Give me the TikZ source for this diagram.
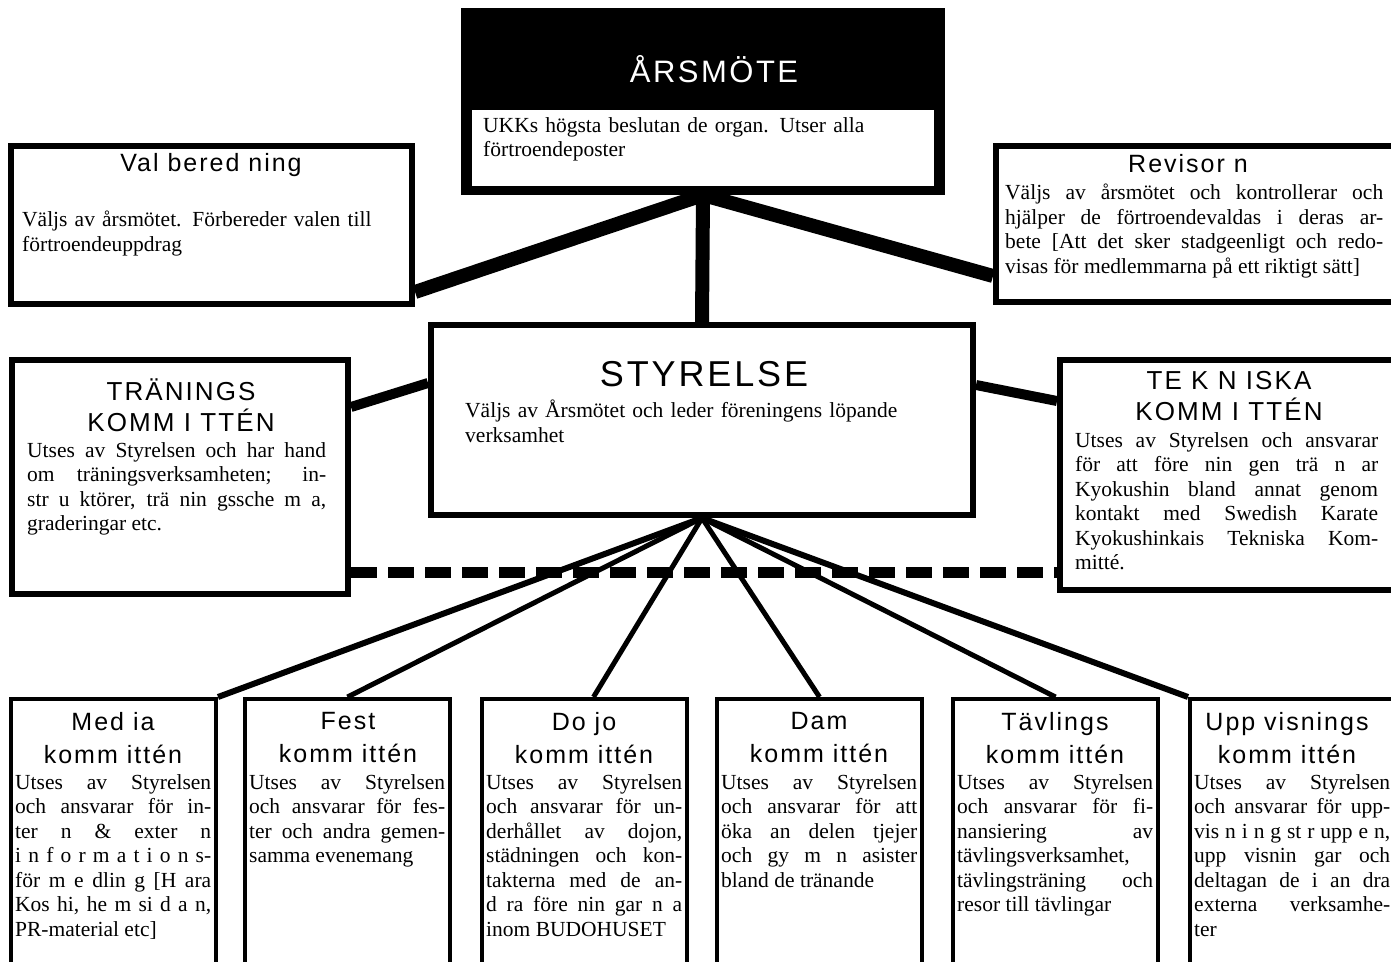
\documentclass[tikz,border=0pt]{standalone}
\usepackage{fontspec}
\setmainfont{Liberation Serif}
\newfontfamily\headfont{Liberation Sans}[LetterSpace=8]
\usetikzlibrary{positioning}

% text sizes
\newcommand{\bodysize}{\fontsize{21.5}{24.5}\selectfont\tolerance=10000\hyphenpenalty=10000}
\newcommand{\headsize}{\headfont\fontsize{25}{33}\selectfont}

\tikzset{
  orgbox/.style={draw, line width=6pt, inner sep=0pt, anchor=north west},
  kombox/.style={draw, line width=4pt, inner sep=0pt, anchor=north west,
    minimum width=205pt, minimum height=320pt},
  headtxt/.style={font=\headsize, align=center, inner sep=0pt},
  bodytxt/.style={font=\bodysize, align=justify, inner sep=0pt, anchor=north west},
  bigline/.style={line width=14pt},
  midline/.style={line width=10pt},
  fanline/.style={line width=5pt},
}

\begin{document}
\begin{tikzpicture}[x=1pt, y=-1pt]
\useasboundingbox (0,0) rectangle (1391,961);

% === Arsmote (top) ===
\node[fill=black, anchor=north west, inner sep=0pt, outer sep=0pt,
      minimum width=484pt, minimum height=187pt] (arsm) at (461,8) {};
\node[fill=white, anchor=north west, inner sep=0pt, outer sep=0pt,
      minimum width=462pt, minimum height=76pt] (arsmin) at (472,110) {};
\node[font=\headfont\fontsize{31}{36}\selectfont, text=white, inner sep=0pt] (arsmT) at (714,69) {ÅRSMÖTE};
\node[bodytxt, align=left, text width=445pt] (arsmB) at (483,117)
      {UKKs högsta beslutan de organ. Utser alla\\förtroendeposter};

% Valberedning
\node[orgbox, minimum width=401pt, minimum height=158pt] (valb) at (8,143) {};
\node[headtxt] (valbT) at (211,165) {Val bered ning};
\node[bodytxt, align=left, text width=385pt] (valbB) at (22,211)
      {Väljs av årsmötet. Förbereder valen till\\förtroendeuppdrag};

% Revisorn
\node[orgbox, minimum width=401pt, minimum height=156pt] (revi) at (993,143) {};
\node[headtxt] (reviT) at (1188,164) {Revisor n};
\node[bodytxt, text width=378pt] (reviB) at (1005,184)
      {Väljs av årsmötet och kontrollerar och\linebreak
       hjälper de förtroendevaldas i deras ar-\linebreak
       bete [Att det sker stadgeenligt och redo-\linebreak
       visas för medlemmarna på ett riktigt sätt]};

% === Styrelse (middle) ===
\node[orgbox, minimum width=542pt, minimum height=190pt] (styr) at (428,322) {};
\node[font=\headfont\fontsize{36}{40}\selectfont, inner sep=0pt] (styrT) at (704,374) {STYRELSE};
\node[bodytxt, align=left, text width=490pt] (styrB) at (465,400)
      {Väljs av Årsmötet och leder föreningens löpande\\verksamhet};

% Traningskommitten
\node[orgbox, minimum width=336pt, minimum height=234pt] (tran) at (9,357) {};
\node[headtxt, font=\headfont\fontsize{26}{31}\selectfont] (tranT) at (181,405) {TRÄNINGS\\KOMM I TTÉN};
\node[bodytxt, text width=299pt] (tranB) at (27,442)
      {Utses av Styrelsen och har hand\linebreak
       om träningsverksamheten; in-\linebreak
       str u ktörer, trä nin gssche m a,\linebreak
       graderingar etc.};

% Tekniska kommitten
\node[orgbox, minimum width=337pt, minimum height=230pt] (tekn) at (1057,357) {};
\node[headtxt, font=\headfont\fontsize{26}{31}\selectfont] (teknT) at (1229,396) {TE K N ISKA\\KOMM I TTÉN};
\node[bodytxt, text width=303pt] (teknB) at (1075,432)
      {Utses av Styrelsen och ansvarar\linebreak
       för att före nin gen trä n ar\linebreak
       Kyokushin bland annat genom\linebreak
       kontakt med Swedish Karate\linebreak
       Kyokushinkais Tekniska Kom-\linebreak
       mitté.};

% === Kommittéer (bottom) ===
\node[kombox] (media) at (9,697) {};
\node[headtxt] (mediaT) at (113,738) {Med ia\\komm ittén};
\node[bodytxt, text width=196pt] (mediaB) at (15,774)
      {Utses av Styrelsen\linebreak
       och ansvarar för in-\linebreak
       ter n \& exter n\linebreak
       i n f o r m a t i o n s-\linebreak
       för m e dlin g [H ara\linebreak
       Kos hi, he m si d a n,\linebreak
       PR-material etc]};

\node[kombox] (fest) at (243,697) {};
\node[headtxt] (festT) at (348,738) {Fest\\komm ittén};
\node[bodytxt, text width=196pt] (festB) at (249,774)
      {Utses av Styrelsen\linebreak
       och ansvarar för fes-\linebreak
       ter och andra gemen-\linebreak
       samma evenemang};

\node[kombox] (dojo) at (480,697) {};
\node[headtxt] (dojoT) at (584,738) {Do jo\\komm ittén};
\node[bodytxt, text width=196pt] (dojoB) at (486,774)
      {Utses av Styrelsen\linebreak
       och ansvarar för un-\linebreak
       derhållet av dojon,\linebreak
       städningen och kon-\linebreak
       takterna med de an-\linebreak
       d ra före nin gar n a\linebreak
       inom BUDOHUSET};

\node[kombox] (dam) at (715,697) {};
\node[headtxt] (damT) at (819,738) {Dam\\komm ittén};
\node[bodytxt, text width=196pt] (damB) at (721,774)
      {Utses av Styrelsen\linebreak
       och ansvarar för att\linebreak
       öka an delen tjejer\linebreak
       och gy m n asister\linebreak
       bland de tränande};

\node[kombox] (tavl) at (951,697) {};
\node[headtxt] (tavlT) at (1055,738) {Tävlings\\komm ittén};
\node[bodytxt, text width=196pt] (tavlB) at (957,774)
      {Utses av Styrelsen\linebreak
       och ansvarar för fi-\linebreak
       nansiering av\linebreak
       tävlingsverksamhet,\linebreak
       tävlingsträning och\linebreak
       resor till tävlingar};

\node[kombox] (uppv) at (1188,697) {};
\node[headtxt] (uppvT) at (1287,738) {Upp visnings\\komm ittén};
\node[bodytxt, text width=196pt] (uppvB) at (1194,774)
      {Utses av Styrelsen\linebreak
       och ansvarar för upp-\linebreak
       vis n i n g st r upp e n,\linebreak
       upp visnin gar och\linebreak
       deltagan de i an dra\linebreak
       externa verksamhe-\linebreak
       ter};

% === Connectors ===
\draw[bigline] (arsm.south) -- ([yshift=15pt]valb.south east);
\draw[bigline] (arsm.south) -- ([yshift=29pt]revi.south west);
\draw[bigline] (arsm.south) -- (styr.north);

\draw[midline] ([yshift=37pt]styr.west) -- ([yshift=70pt]tran.east);
\draw[midline] ([yshift=35pt]styr.east) -- ([yshift=74pt]tekn.west);
\draw[line width=11pt, dash pattern=on 26pt off 11pt]
      ([yshift=-95pt]tran.east) -- ([yshift=-97pt]tekn.west);

% fan to the committees
\draw[fanline, line width=6pt] (styr.south) -- (media.north east);
\foreach \kom in {fest, dam, tavl}
  \draw[fanline] (styr.south) -- (\kom.north);
\draw[fanline] (styr.south) -- ([xshift=9pt]dojo.north);
\draw[fanline, line width=6pt] (styr.south) -- (uppv.north west);

\end{tikzpicture}
\end{document}
